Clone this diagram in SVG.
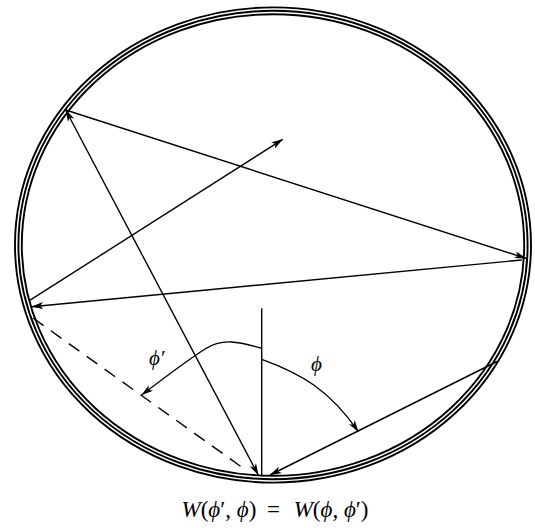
<svg xmlns="http://www.w3.org/2000/svg" width="535" height="528" viewBox="0 0 535 528">
<style>
.ring{fill:none;stroke:#000;stroke-width:1.9}
.ray{fill:none;stroke:#000;stroke-width:1.4}
.dash{fill:none;stroke:#000;stroke-width:1.4;stroke-dasharray:13 9}
.lbl{font-family:"Liberation Serif","DejaVu Serif",serif;font-style:italic;font-size:21px;fill:#000}
.eq{font-family:"Liberation Serif","DejaVu Serif",serif;font-size:23px;fill:#000}
.it{font-style:italic}
</style>
<defs>
<marker id="ah" viewBox="0 0 12 8" refX="11.5" refY="4" markerWidth="12" markerHeight="8" markerUnits="userSpaceOnUse" orient="auto-start-reverse">
<path d="M0,0.5 L12,4 L0,7.5 L3,4 Z" fill="#000"/>
</marker>
</defs>
<g id="wall">
<ellipse class="ring" cx="273" cy="245" rx="258" ry="237.6"/>
<ellipse class="ring" cx="273" cy="245" rx="254.6" ry="234.2"/>
<ellipse class="ring" cx="273" cy="245" rx="251.2" ry="230.8"/>
</g>
<g id="connectors">
<line class="ray" x1="65.7" y1="110" x2="258.3" y2="475" marker-start="url(#ah)" marker-end="url(#ah)"/>
<line class="ray" x1="65.7" y1="110" x2="526" y2="258.3" marker-end="url(#ah)"/>
<line class="ray" x1="521.7" y1="260" x2="31.7" y2="306.7" marker-end="url(#ah)"/>
<line class="ray" x1="29.3" y1="300.7" x2="282.7" y2="139.3" marker-end="url(#ah)"/>
<line class="ray" x1="497" y1="361.5" x2="270" y2="475" marker-end="url(#ah)"/>
<line class="ray" x1="261.7" y1="308.3" x2="261.7" y2="476.5"/>
<line class="dash" x1="33" y1="318" x2="243" y2="468"/>
<path class="ray" d="M261.7,348.3 C245,344 225,336 205,349 C185,362 160,381 141.7,395" marker-end="url(#ah)"/>
<path class="ray" d="M261.7,359.3 C300,373 330,390 358.3,431.7" marker-end="url(#ah)"/>
</g>
<g id="labels">
<text class="lbl" x="149" y="365">ϕ′</text>
<text class="lbl" x="311" y="371">ϕ</text>
<text class="eq" x="181.5" y="517"><tspan class="it">W</tspan>(<tspan class="it">ϕ</tspan>′, <tspan class="it">ϕ</tspan>)</text>
<text class="eq" x="273.5" y="517" text-anchor="middle">=</text>
<text class="eq" x="368.5" y="517" text-anchor="end"><tspan class="it">W</tspan>(<tspan class="it">ϕ</tspan>, <tspan class="it">ϕ</tspan>′)</text>
</g>
</svg>
